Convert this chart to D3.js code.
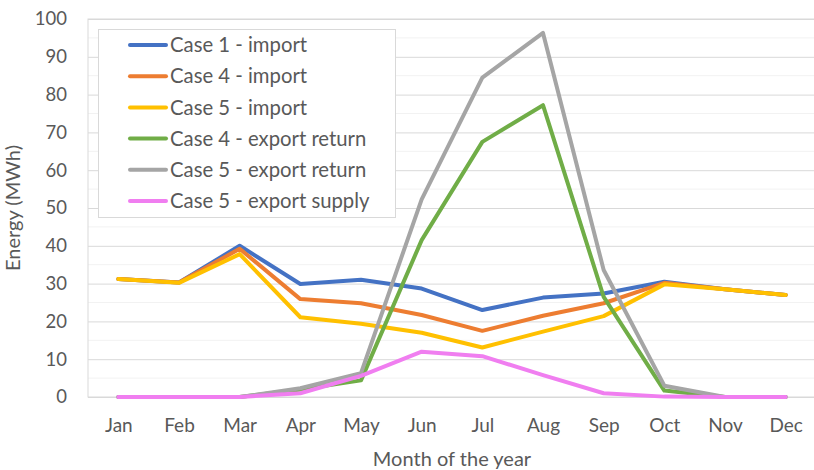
<!DOCTYPE html>
<html>
<head>
<meta charset="utf-8">
<script src="https://cdn.jsdelivr.net/npm/d3@7"></script>
<style>
  body { margin: 0; background: #fff; }
  svg text { font-family: "Lato", "Open Sans", sans-serif; fill: #595959; }
</style>
</head>
<body>
<div id="chart"></div>
<script>
const months = ["Jan", "Feb", "Mar", "Apr", "May", "Jun", "Jul", "Aug", "Sep", "Oct", "Nov", "Dec"];
const yTicks = [0, 10, 20, 30, 40, 50, 60, 70, 80, 90, 100];

const case1Import = [31.2, 30.3, 40.0, 29.9, 31.0, 28.7, 23.0, 26.3, 27.4, 30.5, 28.5, 27.0];
const case4Import = [31.2, 30.3, 39.2, 25.9, 24.8, 21.7, 17.5, 21.5, 24.8, 30.2, 28.5, 27.0];
const case5Import = [31.2, 30.2, 37.8, 21.1, 19.4, 17.0, 13.1, 17.3, 21.4, 29.8, 28.5, 27.0];
const case4ExportReturn = [0, 0, 0, 2.0, 4.4, 41.5, 67.5, 77.2, 26.5, 1.7, 0, 0];
const case5ExportReturn = [0, 0, 0, 2.3, 6.3, 52.3, 84.5, 96.3, 33.6, 3.0, 0, 0];
const case5ExportSupply = [0, 0, 0, 1.0, 5.6, 12.0, 10.8, 5.8, 1.0, 0.1, 0, 0];

const seriesNames = ["Case 1 - import", "Case 4 - import", "Case 5 - import",
  "Case 4 - export return", "Case 5 - export return", "Case 5 - export supply"];
const seriesColors = ["#4472C4", "#ED7D31", "#FFC000", "#70AD47", "#A5A5A5", "#F07EF0"];
const seriesValues = [case1Import, case4Import, case5Import, case4ExportReturn, case5ExportReturn, case5ExportSupply];

const W = 814, H = 470;
const plot = { left: 88, top: 19, right: 816, bottom: 397 };

const svg = d3.select("#chart").append("svg")
  .attr("width", W).attr("height", H);

const x = d3.scalePoint().domain(months)
  .range([plot.left, plot.right]).padding(0.5);
const y = d3.scaleLinear().domain([0, 100]).range([plot.bottom, plot.top]);

// minor gridlines (every 5)
svg.append("g").selectAll("line")
  .data(d3.range(5, 100, 10))
  .join("line")
  .attr("x1", plot.left).attr("x2", plot.right)
  .attr("y1", d => y(d)).attr("y2", d => y(d))
  .attr("stroke", "#F2F2F2").attr("stroke-width", 1);

// major gridlines
svg.append("g")
  .attr("transform", "translate(" + plot.left + ",0)")
  .call(d3.axisLeft(y).tickValues(yTicks).tickSize(-(plot.right - plot.left)).tickFormat(""))
  .call(g => g.select(".domain").remove())
  .selectAll("line").attr("stroke", "#D9D9D9");

// plot border
svg.append("rect")
  .attr("x", plot.left).attr("y", plot.top)
  .attr("width", plot.right - plot.left).attr("height", plot.bottom - plot.top)
  .attr("fill", "none").attr("stroke", "#D9D9D9");

// y tick labels
svg.append("g")
  .attr("transform", "translate(" + plot.left + ",0)")
  .call(d3.axisLeft(y).tickValues(yTicks).tickSize(0).tickPadding(21))
  .call(g => g.select(".domain").remove())
  .selectAll("text")
  .attr("font-size", 18.5).attr("font-family", "Lato, sans-serif").attr("fill", "#595959");

// x tick labels
svg.append("g")
  .attr("transform", "translate(0," + plot.bottom + ")")
  .call(d3.axisBottom(x).tickSize(0).tickPadding(22))
  .call(g => g.select(".domain").remove())
  .selectAll("text")
  .attr("font-size", 19).attr("font-family", "Lato, sans-serif").attr("fill", "#595959");

// axis titles
svg.append("text")
  .attr("x", 452).attr("y", 466)
  .attr("text-anchor", "middle").attr("font-size", 20)
  .text("Month of the year");

svg.append("text")
  .attr("transform", "translate(20,208) rotate(-90)")
  .attr("text-anchor", "middle").attr("font-size", 20)
  .text("Energy (MWh)");

// lines
const line = d3.line()
  .x((d, i) => x(months[i]))
  .y(d => y(d));

svg.append("g").selectAll("path")
  .data(seriesValues)
  .join("path")
  .attr("d", d => line(d))
  .attr("fill", "none")
  .attr("stroke", (d, i) => seriesColors[i])
  .attr("stroke-width", 4)
  .attr("stroke-linejoin", "round")
  .attr("stroke-linecap", "round");

// legend
const legend = svg.append("g");
legend.append("rect")
  .attr("x", 98.5).attr("y", 29.5).attr("width", 297).attr("height", 188)
  .attr("fill", "#fff").attr("stroke", "#D9D9D9");

const items = legend.selectAll("g.item")
  .data(seriesNames)
  .join("g")
  .attr("class", "item")
  .attr("transform", (d, i) => "translate(0," + (45 + i * 31.2) + ")");

items.append("line")
  .attr("x1", 130).attr("x2", 166)
  .attr("stroke", (d, i) => seriesColors[i])
  .attr("stroke-width", 4).attr("stroke-linecap", "round");

items.append("text")
  .attr("x", 170).attr("dy", "0.35em")
  .attr("font-size", 20.3)
  .text(d => d);
</script>
</body>
</html>
